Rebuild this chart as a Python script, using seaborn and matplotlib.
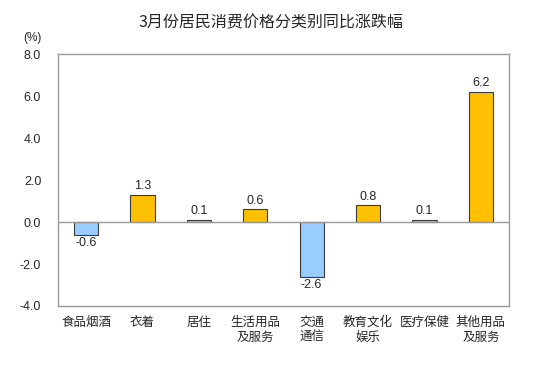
import matplotlib
matplotlib.use("Agg")
import matplotlib.pyplot as plt
import pandas as pd
import seaborn as sns

categories = ["食品烟酒", "衣着", "居住", "生活用品\n及服务", "交通\n通信", "教育文化\n娱乐", "医疗保健", "其他用品\n及服务"]
values = [-0.6, 1.3, 0.1, 0.6, -2.6, 0.8, 0.1, 6.2]
yticks = [-4.0, -2.0, 0.0, 2.0, 4.0, 6.0, 8.0]
title = "3月份居民消费价格分类别同比涨跌幅"

sns.set_theme(style="white")
plt.rcParams["font.family"] = ["Noto Sans CJK SC", "DejaVu Sans"]

df = pd.DataFrame({"category": categories, "value": values})
df["sign"] = ["neg" if v < 0 else "pos" for v in values]

fig = plt.figure(figsize=(5.41, 3.66), dpi=100)
ax = fig.add_axes([0.107, 0.164, 0.834, 0.688])
sns.barplot(data=df, x="category", y="value", hue="sign",
            palette={"pos": "#FFC000", "neg": "#99CCFF"}, saturation=1,
            dodge=False, width=0.43, edgecolor="#3a3a3a", linewidth=0.8,
            legend=False, ax=ax)

ax.set_ylim(-4, 8)
ax.set_xlim(-0.5, len(categories) - 0.5)
ax.set_yticks(yticks)
ax.set_yticklabels([f"{t:.1f}" for t in yticks], fontsize=9, family="Liberation Sans")
ax.tick_params(axis="x", length=0, labelsize=9, pad=7)
ax.tick_params(axis="y", length=0, pad=12)
ax.set_xlabel("")
ax.set_ylabel("")
for s in ax.spines.values():
    s.set_color("#999999")
    s.set_linewidth(1.0)
ax.axhline(0, color="#999999", linewidth=1.0, zorder=1)

for i, v in enumerate(values):
    off = 0.12 if v >= 0 else -0.12
    ax.text(i, v + off, f"{v:.1f}", ha="center", va="bottom" if v >= 0 else "top",
            fontsize=9, family="Liberation Sans")

fig.text(0.06, 0.895, "(%)", ha="center", va="center", fontsize=8.5, family="Liberation Sans")
fig.suptitle(title, x=0.5, y=0.96, fontsize=11.5)

fig.savefig("out.png", dpi=100)
